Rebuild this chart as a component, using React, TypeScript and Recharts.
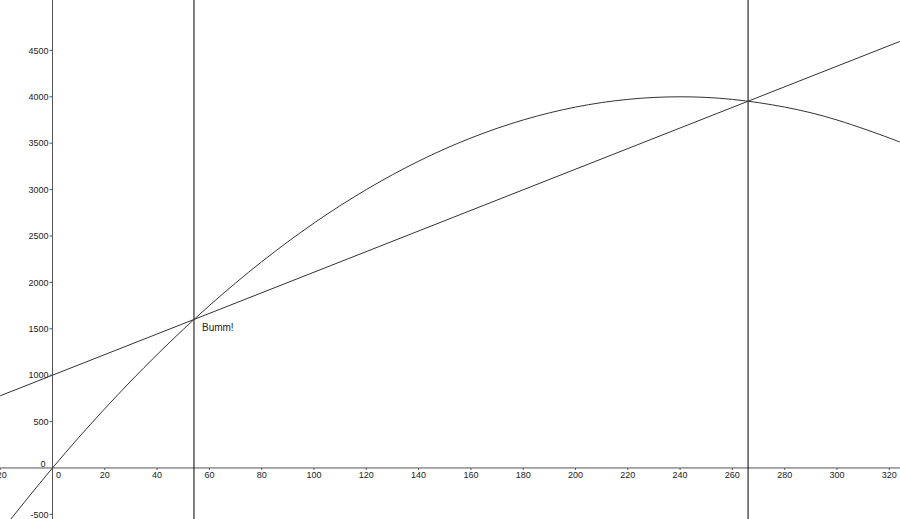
import React from 'react'
import { ComposedChart, Line, XAxis, YAxis, ReferenceLine, ReferenceDot } from 'recharts'

// parabola (peak ~4000 at x=240)
const curveX = [-20, 0, 20, 40, 60, 80, 100, 120, 140, 160, 180, 200, 220, 240, 260, 280, 300, 320, 324]
const curveY = [-694, 0, 639, 1222, 1750, 2222, 2639, 3000, 3306, 3556, 3750, 3889, 3972, 4000, 3972, 3889, 3750, 3556, 3510]

// straight line, only the end points
const lineX = [-20, 324]
const lineY = [778, 4596]

// the two crossings
const crossX = [54.1, 266]
const bumm = { x: 54.1, y: 1600, text: 'Bumm!' }

const xTicks = [-20, 0, 20, 40, 60, 80, 100, 120, 140, 160, 180, 200, 220, 240, 260, 280, 300, 320]
const yTicks = [-500, 0, 500, 1000, 1500, 2000, 2500, 3000, 3500, 4000, 4500]

const curveData = curveX.map((x, i) => ({ x, y: curveY[i] }))
const lineData = lineX.map((x, i) => ({ x, y: lineY[i] }))

const W = 900
const H = 519
const font = '"Liberation Sans", Arial, sans-serif'
const axisColor = '#555'
const inkColor = '#333'

export default function App() {
  return (
    <div style={{ position: 'fixed', left: 0, top: 0, width: W, height: H, background: '#fff' }}>
      <ComposedChart width={W} height={H} margin={{ top: 0, right: 0, bottom: 0, left: 0 }}>
        <XAxis type="number" dataKey="x" domain={[-20.08, 324.1]} allowDataOverflow hide />
        <YAxis type="number" dataKey="y" domain={[-550, 5043]} allowDataOverflow hide />

        {/* axes through the origin */}
        <ReferenceLine x={0} stroke={axisColor} strokeWidth={1} />
        <ReferenceLine y={0} stroke={axisColor} strokeWidth={1} />

        {xTicks.map((t) => (
          <ReferenceDot
            key={'xt' + t}
            x={t}
            y={0}
            r={0}
            ifOverflow="visible"
            shape={(p: any) => (
              <g>
                {t !== 0 && <line x1={p.cx} y1={p.cy} x2={p.cx} y2={p.cy + 2} stroke={axisColor} />}
                <text
                  x={t === 0 ? p.cx + 6 : p.cx}
                  y={p.cy + 10.5}
                  textAnchor="middle"
                  fontSize={9}
                  fontFamily={font}
                  fill="#222"
                >
                  {t}
                </text>
              </g>
            )}
          />
        ))}

        {yTicks.map((t) => (
          <ReferenceDot
            key={'yt' + t}
            x={0}
            y={t}
            r={0}
            ifOverflow="visible"
            shape={(p: any) =>
              t === 0 ? (
                <text x={p.cx - 9.5} y={p.cy - 1} textAnchor="middle" fontSize={9} fontFamily={font} fill="#222">
                  0
                </text>
              ) : (
                <g>
                  <line x1={p.cx - 3} y1={p.cy} x2={p.cx} y2={p.cy} stroke={axisColor} />
                  <text x={p.cx - 4} y={p.cy + 3.2} textAnchor="end" fontSize={9} fontFamily={font} fill="#222">
                    {t}
                  </text>
                </g>
              )
            }
          />
        ))}

        {crossX.map((x) => (
          <ReferenceLine key={'v' + x} x={x} stroke="#000" strokeWidth={1} />
        ))}

        <Line
          data={lineData}
          dataKey="y"
          type="linear"
          stroke={inkColor}
          strokeWidth={1}
          dot={false}
          activeDot={false}
          isAnimationActive={false}
        />
        <Line
          data={curveData}
          dataKey="y"
          type="natural"
          stroke={inkColor}
          strokeWidth={1}
          dot={false}
          activeDot={false}
          isAnimationActive={false}
        />

        <ReferenceDot
          x={bumm.x}
          y={bumm.y}
          r={0}
          ifOverflow="visible"
          shape={(p: any) => (
            <text x={p.cx + 8} y={p.cy + 12} fontSize={10} fontFamily={font} fill="#222">
              {bumm.text}
            </text>
          )}
        />
      </ComposedChart>
    </div>
  )
}
